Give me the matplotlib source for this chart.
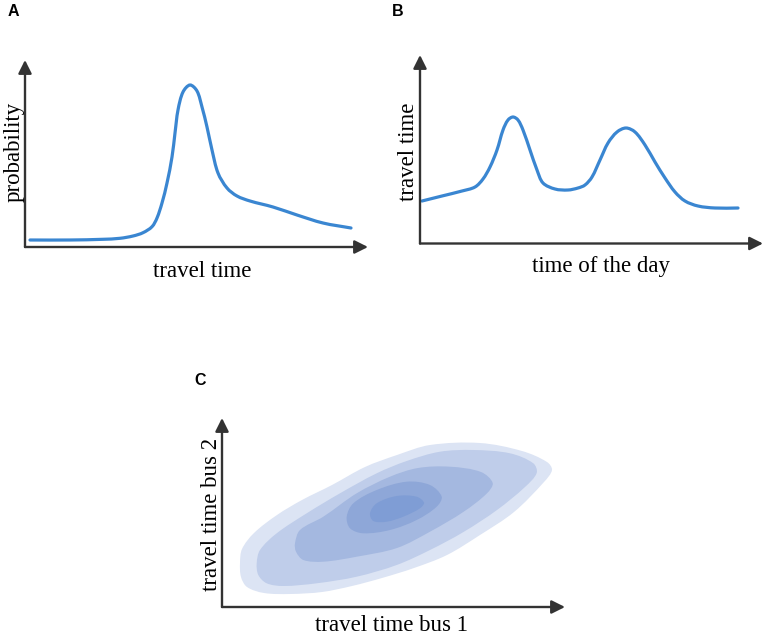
import numpy as np
import matplotlib
matplotlib.use("Agg")
import matplotlib.pyplot as plt
from matplotlib.path import Path
from matplotlib.patches import PathPatch

# ---------------- data (arbitrary units) ----------------
# Panel A: travel-time probability density
a_x = [5, 45, 78, 95, 108, 118, 127, 132, 137, 142, 147, 150, 153, 158, 165,
       172, 177, 182, 187, 193, 202, 212, 225, 248, 272, 298, 326]
a_y = [7, 7, 7.7, 8.7, 11, 14.3, 20.3, 29, 44, 64, 90, 114, 137, 155, 162,
       156, 140, 120, 97, 74, 59, 51, 46, 40, 32, 24, 19]

# Panel B: travel time vs time of the day
b_x = [2, 22, 42, 55, 63, 70, 77, 83, 88, 93, 98, 103, 110, 117, 123, 135, 148,
       158, 165, 172, 180, 188, 197, 206, 215, 225, 235, 245, 255, 265, 278, 295, 318]
b_y = [42.5, 47.5, 52.5, 56.5, 64.5, 76.5, 93.5, 113.5, 123.5, 126.5, 123.5,
       113.5, 93.5, 73.5, 60.5, 54.5, 53.5, 55.5, 58.5, 66.5, 83.5, 100.5, 111.5,
       115.5, 111.5, 98.5, 81.5, 65.5, 51.5, 42.5, 37.5, 35.5, 35.5]

# Panel C: joint density contour levels (outer -> inner)
c1_x = [18, 20, 32, 55, 80, 110, 143, 175, 208, 258, 300, 325, 330, 322, 292,
        258, 225, 192, 160, 130, 100, 68, 42, 25, 19]
c1_y = [44, 58, 74, 92, 107, 122, 140, 152, 162, 164, 156, 145, 137, 125, 95,
        72, 52, 39, 29, 21, 15, 13, 14, 20, 30]
c2_x = [34.7, 38, 54.7, 84.7, 118, 154.7, 184.7, 218, 251.3, 288, 311.3, 314.7,
        303, 275, 241.5, 208, 174.7, 134.7, 94.7, 61.3, 44.7, 36.3]
c2_y = [43.7, 57, 73.7, 93.7, 113.7, 133.7, 146, 155.3, 157, 153.7, 143.7, 134,
        120, 97, 75, 57, 42, 30.3, 23.7, 21, 23.7, 32]
c3_x = [73, 78, 101.3, 134.7, 168, 196, 228, 259, 270.7, 265, 241.7, 208, 175,
        134.7, 101.3, 81.3, 74]
c3_y = [63.7, 77, 90.3, 113.7, 130.3, 139, 140.3, 135, 124, 113.7, 95.3, 75.3,
        59, 50.3, 45.3, 47, 55.3]
c4_x = [124.7, 131.3, 154.7, 184.7, 208, 219.7, 214.7, 194.7, 168, 141.3, 128]
c4_y = [90.3, 103.7, 117, 125.3, 122, 110.3, 100.3, 87, 77, 73.7, 78.7]
c5_x = [148, 154.7, 174.7, 194.7, 202, 198, 181.3, 164.7, 151.3]
c5_y = [93.7, 103.7, 111, 110.3, 104.3, 98.7, 90.3, 85.3, 86]

c_levels_x = [c1_x, c2_x, c3_x, c4_x, c5_x]
c_levels_y = [c1_y, c2_y, c3_y, c4_y, c5_y]
c_colors = ["#dce4f4", "#bfcdea", "#a4b8e0", "#8ea7d8", "#7f9dd5"]

line_color = "#3a86d1"
axis_color = "#333333"
serif = ["Liberation Serif", "DejaVu Serif"]
sans = ["Liberation Sans", "DejaVu Sans"]

W, H = 765, 638


def smooth_path(x, y, closed):
    """Bezier path through the given vertices (chord-scaled Catmull-Rom tangents)."""
    pts = np.column_stack([x, y]).astype(float)
    n = len(pts)
    verts = [pts[0]]
    codes = [Path.MOVETO]
    nseg = n if closed else n - 1
    for i in range(nseg):
        if closed:
            p0, p1, p2, p3 = pts[(i - 1) % n], pts[i], pts[(i + 1) % n], pts[(i + 2) % n]
        else:
            p0 = pts[max(i - 1, 0)]
            p1 = pts[i]
            p2 = pts[i + 1]
            p3 = pts[min(i + 2, n - 1)]
        d0 = np.linalg.norm(p1 - p0)
        d1 = np.linalg.norm(p2 - p1)
        d2 = np.linalg.norm(p3 - p2)
        if d0 == 0:
            c1 = p1 + (p2 - p1) / 3.0
        else:
            c1 = p1 + (p2 - p0) * d1 / (3.0 * (d0 + d1))
        if d2 == 0:
            c2 = p2 - (p2 - p1) / 3.0
        else:
            c2 = p2 - (p3 - p1) * d1 / (3.0 * (d1 + d2))
        verts += [c1, c2, p2]
        codes += [Path.CURVE4] * 3
    if closed:
        verts.append(pts[0])
        codes.append(Path.CLOSEPOLY)
    return Path(verts, codes)


def make_axes(fig, ox, oy, tip_x, tip_y):
    left = ox / W
    bottom = (H - oy) / H
    width = (tip_x - ox) / W
    height = (oy - tip_y) / H
    ax = fig.add_axes([left, bottom, width, height])
    ax.set_xlim(0, tip_x - ox)
    ax.set_ylim(0, oy - tip_y)
    ax.axis("off")
    for xy in [(1, 0), (0, 1)]:
        ax.annotate("", xy=xy, xytext=(0, 0), xycoords="axes fraction",
                    textcoords="axes fraction",
                    arrowprops=dict(arrowstyle="-|>", color=axis_color, lw=1.7,
                                    mutation_scale=20, shrinkA=0, shrinkB=0),
                    annotation_clip=False)
    return ax


fig = plt.figure(figsize=(W / 100, H / 100), dpi=100)

# Panel A
axA = make_axes(fig, 25, 247, 368, 60)
axA.add_patch(PathPatch(smooth_path(a_x, a_y, False), facecolor="none",
                        edgecolor=line_color, lw=2.3, capstyle="round", clip_on=False))

# Panel B
axB = make_axes(fig, 420, 243.5, 763, 55)
axB.add_patch(PathPatch(smooth_path(b_x, b_y, False), facecolor="none",
                        edgecolor=line_color, lw=2.3, capstyle="round", clip_on=False))

# Panel C
axC = make_axes(fig, 222, 607, 565, 418)
for xs, ys, col in zip(c_levels_x, c_levels_y, c_colors):
    axC.add_patch(PathPatch(smooth_path(xs, ys, True), facecolor=col,
                            edgecolor="none", clip_on=False))


def ftext(px, py, s, **kw):
    fig.text(px / W, 1 - py / H, s, **kw)


# panel letters
ftext(13, 12, "A", family=sans, weight="bold", fontsize=11.5, ha="center", va="center")
ftext(398, 11, "B", family=sans, weight="bold", fontsize=11.5, ha="center", va="center")
ftext(200, 381, "C", family=sans, weight="bold", fontsize=11.5, ha="center", va="center")

# axis labels
fs = 16.5
ftext(202, 277, "travel time", family=serif, fontsize=fs, ha="center", va="baseline")
ftext(14, 152, "probability", family=serif, fontsize=fs, ha="center", va="center", rotation=90)
ftext(601, 272, "time of the day", family=serif, fontsize=fs, ha="center", va="baseline")
ftext(409, 152, "travel time", family=serif, fontsize=fs, ha="center", va="center", rotation=90)
ftext(392, 631, "travel time bus 1", family=serif, fontsize=fs, ha="center", va="baseline")
ftext(211, 514, "travel time bus 2", family=serif, fontsize=fs, ha="center", va="center", rotation=90)

fig.savefig("out.png", dpi=100)
